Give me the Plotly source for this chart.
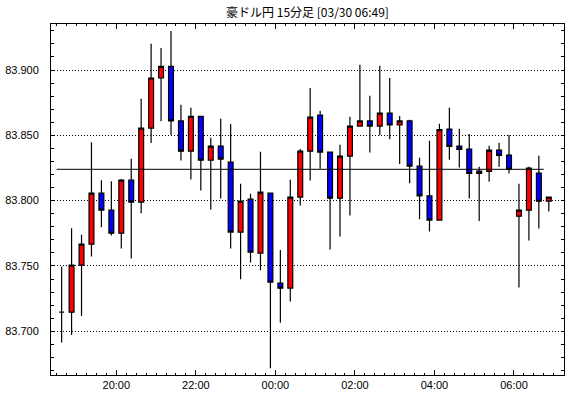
import pandas as pd
import plotly.graph_objects as go

TITLE = "豪ドル円 15分足 [03/30 06:49]"
BAR_START = "2024-03-29 18:30"
N_BARS = 50

opens = [83.7146, 83.7146, 83.7506, 83.7667, 83.8057, 83.7927, 83.7751, 83.8157, 83.7989, 83.8556,
         83.8939, 83.9028, 83.8610, 83.8379, 83.8645, 83.8310, 83.8418, 83.8295, 83.7759, 83.8011,
         83.7598, 83.8057, 83.7368, 83.7330, 83.8027, 83.8379, 83.8655, 83.8372, 83.8019, 83.8341,
         83.8571, 83.8610, 83.8571, 83.8670, 83.8579, 83.8610, 83.8264, 83.8037, 83.7851, 83.8548,
         83.8418, 83.8395, 83.8208, 83.8224, 83.8387, 83.8349, 83.7881, 83.7927, 83.8211, 83.7996]
highs = [83.7496, 83.7789, 83.7738, 83.8448, 83.8157, 83.8149, 83.8165, 83.8321, 83.8780, 83.9202,
         83.9169, 83.9299, 83.8734, 83.8711, 83.8645, 83.8481, 83.8627, 83.8586, 83.8129, 83.8052,
         83.8374, 83.8057, 83.7623, 83.8160, 83.8395, 83.8862, 83.8688, 83.8372, 83.8428, 83.8642,
         83.9041, 83.8803, 83.9033, 83.8939, 83.8648, 83.8620, 83.8328, 83.8458, 83.8589, 83.8711,
         83.8550, 83.8510, 83.8259, 83.8420, 83.8443, 83.8502, 83.8129, 83.8259, 83.8344, 83.8027]
lows = [83.6913, 83.6972, 83.7117, 83.7572, 83.7797, 83.7733, 83.7633, 83.7557, 83.7904, 83.8441,
        83.8607, 83.8502, 83.8308, 83.8162, 83.8078, 83.7932, 83.8017, 83.7633, 83.7398, 83.7526,
        83.7467, 83.6716, 83.7066, 83.7227, 83.7963, 83.8155, 83.8244, 83.7626, 83.7725, 83.7886,
        83.8571, 83.8369, 83.8500, 83.8471, 83.8280, 83.8134, 83.7858, 83.7764, 83.7851, 83.8313,
        83.8254, 83.8017, 83.7845, 83.8144, 83.8259, 83.8208, 83.7335, 83.7695, 83.7787, 83.7917]
closes = [83.7146, 83.7506, 83.7667, 83.8057, 83.7927, 83.7751, 83.8157, 83.7989, 83.8556, 83.8939,
          83.9028, 83.8610, 83.8379, 83.8645, 83.8310, 83.8418, 83.8318, 83.7759, 83.7996, 83.7605,
          83.8065, 83.7375, 83.7330, 83.8027, 83.8379, 83.8640, 83.8372, 83.8019, 83.8341, 83.8571,
          83.8610, 83.8571, 83.8670, 83.8579, 83.8610, 83.8264, 83.8037, 83.7851, 83.8543, 83.8415,
          83.8392, 83.8208, 83.8226, 83.8387, 83.8346, 83.8241, 83.7927, 83.8249, 83.7996, 83.8027]
REF_LEVEL = 83.824

Y_TICKS = [83.70, 83.75, 83.80, 83.85, 83.90]

bar_starts = pd.date_range(BAR_START, periods=N_BARS, freq="15min")
bar_centers = bar_starts + pd.Timedelta(minutes=7.5)

FONT_TICK = "Liberation Sans Narrow, Arial Narrow, Liberation Sans, Arial, sans-serif"

fig = go.Figure()
fig.add_trace(go.Candlestick(
    x=bar_centers, open=opens, high=highs, low=lows, close=closes,
    increasing=dict(fillcolor="#FF0000", line=dict(color="#000000", width=1.2)),
    decreasing=dict(fillcolor="#0000FF", line=dict(color="#000000", width=1.2)),
    whiskerwidth=0, showlegend=False, hoverinfo="skip",
))
fig.add_trace(go.Scatter(
    x=[bar_starts[0], bar_starts[-1]], y=[REF_LEVEL, REF_LEVEL],
    mode="lines", line=dict(color="#000000", width=1), showlegend=False, hoverinfo="skip",
))

x_left = bar_starts[0] - pd.Timedelta(seconds=513)
x_right = bar_starts[-1] + pd.Timedelta(minutes=30, seconds=27)

fig.update_layout(
    width=570, height=398,
    margin=dict(l=49, r=5, t=24, b=23),
    paper_bgcolor="white", plot_bgcolor="white",
    boxgap=0.3,
    title=dict(text=TITLE, x=0.5, xref="paper", xanchor="center",
               y=1 - 13 / 398, yref="container", yanchor="middle",
               font=dict(family="Noto Sans CJK JP", size=12, color="black")),
    font=dict(family=FONT_TICK, size=11, color="black"),
)
fig.update_xaxes(
    type="date", range=[x_left, x_right],
    rangeslider=dict(visible=False),
    tickformat="%H:%M", dtick=2 * 3600 * 1000, tick0="2024-03-29 20:00",
    ticks="inside", ticklen=5, tickcolor="black", tickwidth=1,
    minor=dict(dtick=15 * 60 * 1000, tick0="2024-03-29 18:30", ticks="inside",
               ticklen=2, tickcolor="black", showgrid=False),
    showline=True, linecolor="black", linewidth=1, mirror="allticks",
    showgrid=False, zeroline=False,
    tickfont=dict(family=FONT_TICK, size=11, color="black"),
)
fig.update_yaxes(
    range=[83.6665, 83.93525],
    tickvals=Y_TICKS, tickformat=".3f",
    ticks="inside", ticklen=3, tickcolor="black", tickwidth=1,
    minor=dict(dtick=0.01, tick0=83.70, ticks="inside", ticklen=3,
               tickcolor="black", showgrid=False),
    showline=True, linecolor="black", linewidth=1, mirror="allticks",
    showgrid=True, gridcolor="black", gridwidth=1, griddash="1px,2px",
    zeroline=False, ticklabelstandoff=9,
    tickfont=dict(family=FONT_TICK, size=11, color="black"),
)

fig.write_html("out.html")
